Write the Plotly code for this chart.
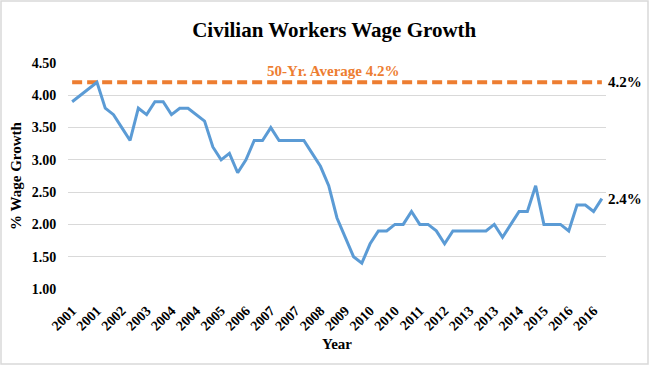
import plotly.graph_objects as go

# Quarterly data, 2001 Q1 .. 2017 Q1 (65 quarters)
years = [str(y) for y in range(2001, 2017) for _ in range(4)] + ["2017"]
wage_growth = [
    3.9, 4.0, 4.1, 4.2, 3.8, 3.7, 3.5, 3.3, 3.8, 3.7,
    3.9, 3.9, 3.7, 3.8, 3.8, 3.7, 3.6, 3.2, 3.0, 3.1,
    2.8, 3.0, 3.3, 3.3, 3.5, 3.3, 3.3, 3.3, 3.3, 3.1,
    2.9, 2.6, 2.1, 1.8, 1.5, 1.4, 1.7, 1.9, 1.9, 2.0,
    2.0, 2.2, 2.0, 2.0, 1.9, 1.7, 1.9, 1.9, 1.9, 1.9,
    1.9, 2.0, 1.8, 2.0, 2.2, 2.2, 2.6, 2.0, 2.0, 2.0,
    1.9, 2.3, 2.3, 2.2, 2.4,
]
avg_50yr = 4.2
label_every = 3
y_ticks = [1.0, 1.5, 2.0, 2.5, 3.0, 3.5, 4.0, 4.5]

idx = list(range(len(wage_growth)))
tick_idx = [i for i in idx if i % label_every == 0 and i < len(idx) - 1]
tick_text = ["<b>%s</b>" % years[i] for i in tick_idx]

SERIF = "Liberation Serif, Times New Roman, serif"

fig = go.Figure()
fig.add_trace(go.Scatter(
    x=idx, y=[avg_50yr] * len(idx), mode="lines",
    line=dict(color="#ED7D31", width=4, dash="10px,5px"),
    hoverinfo="skip", showlegend=False,
))
fig.add_trace(go.Scatter(
    x=idx, y=wage_growth, mode="lines",
    line=dict(color="#5B9BD5", width=3),
    showlegend=False,
))

fig.add_annotation(x=(idx[0] + idx[-1]) / 2 - 0.5, y=avg_50yr, xref="x", yref="y",
                   text="<b>50-Yr. Average 4.2%</b>", showarrow=False,
                   yshift=11, font=dict(family=SERIF, size=15, color="#ED7D31"))
fig.add_annotation(x=idx[-1], y=avg_50yr, xref="x", yref="y",
                   text="<b>4.2%</b>", showarrow=False, xanchor="left", xshift=4,
                   font=dict(family=SERIF, size=15, color="#000000"))
fig.add_annotation(x=idx[-1], y=wage_growth[-1], xref="x", yref="y",
                   text="<b>%.1f%%</b>" % wage_growth[-1], showarrow=False,
                   xanchor="left", xshift=4,
                   font=dict(family=SERIF, size=15, color="#000000"))

L, R, T, B = 68, 43, 63, 76
W, H = 649, 365
pw, ph = W - L - R, H - T - B
fig.add_shape(type="rect", xref="paper", yref="paper",
              x0=-(L - 1) / pw, x1=1 + (R - 1) / pw,
              y0=-(B - 1) / ph, y1=1 + (T - 1) / ph,
              line=dict(color="#D9D9D9", width=1.5), layer="below")

fig.update_layout(
    width=W, height=H,
    margin=dict(l=L, r=R, t=T, b=B),
    paper_bgcolor="white", plot_bgcolor="white",
    title=dict(text="<b>Civilian Workers Wage Growth</b>", x=0.515, xanchor="center",
               y=1 - 30 / H, yanchor="middle",
               font=dict(family=SERIF, size=21, color="#000000")),
    xaxis=dict(
        range=[-0.5, len(idx) - 0.5], tickmode="array", tickvals=tick_idx, ticktext=tick_text,
        tickangle=-45, showgrid=False, zeroline=False, showline=False,
        ticks="outside", ticklen=7, tickcolor="rgba(0,0,0,0)",
        tickfont=dict(family=SERIF, size=14, color="#000000"),
        title=dict(text="<b>Year</b>", font=dict(family=SERIF, size=15, color="#000000"), standoff=5),
    ),
    yaxis=dict(
        range=[1.0, 4.5], tickmode="array", tickvals=y_ticks,
        ticktext=["<b>%.2f</b>" % v for v in y_ticks],
        showgrid=True, gridcolor="#D9D9D9", gridwidth=1, zeroline=False, showline=False,
        ticks="outside", ticklen=8, tickcolor="rgba(0,0,0,0)",
        tickfont=dict(family=SERIF, size=14, color="#000000"),
        title=dict(text="<b>% Wage Growth</b>", font=dict(family=SERIF, size=15, color="#000000"), standoff=6),
    ),
)

fig.write_html("out.html", config={"displayModeBar": False},
               post_script="document.body.style.margin='0';document.body.style.overflow='hidden';")
